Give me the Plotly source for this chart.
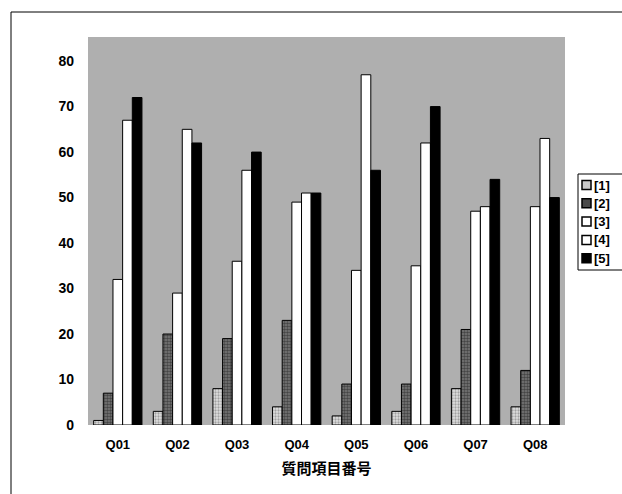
import plotly.graph_objects as go

categories = ["Q01", "Q02", "Q03", "Q04", "Q05", "Q06", "Q07", "Q08"]
series_names = ["[1]", "[2]", "[3]", "[4]", "[5]"]
s1 = [1, 3, 8, 4, 2, 3, 8, 4]
s2 = [7, 20, 19, 23, 9, 9, 21, 12]
s3 = [32, 29, 36, 49, 34, 35, 47, 48]
s4 = [67, 65, 56, 51, 77, 62, 48, 63]
s5 = [72, 62, 60, 51, 56, 70, 54, 50]
y_ticks = [0, 10, 20, 30, 40, 50, 60, 70, 80]
x_title = "質問項目番号"

values = [s1, s2, s3, s4, s5]
styles = [
    dict(color="#d0d0d0", pattern=dict(shape=".", fgcolor="#606060", bgcolor="#e0e0e0", size=3, solidity=0.45)),
    dict(color="#505050", pattern=dict(shape=".", fgcolor="#101010", bgcolor="#7a7a7a", size=3, solidity=0.55)),
    dict(color="#ffffff"),
    dict(color="#ffffff"),
    dict(color="#000000"),
]
swatch_fill = ["#c8c8c8", "#4a4a4a", "#ffffff", "#ffffff", "#000000"]

W, H = 622, 494
ML, MR, MT, MB = 88, 57, 37, 69
PW, PH = W - ML - MR, H - MT - MB


def px_x(px):
    return (px - ML) / PW


def px_y(py):
    return (H - MB - py) / PH


fig = go.Figure()
for name, vals, st in zip(series_names, values, styles):
    marker = dict(color=st["color"], line=dict(color="#000000", width=1))
    if "pattern" in st:
        marker["pattern"] = st["pattern"]
    fig.add_trace(go.Bar(x=categories, y=vals, name=name, marker=marker, showlegend=False))

font_main = "Liberation Sans, Arial, sans-serif"

shapes = [
    # outer chart frame
    dict(type="rect", xref="paper", yref="paper", x0=px_x(11), x1=px_x(626), y0=px_y(540), y1=px_y(12),
         line=dict(color="#000000", width=1), fillcolor="rgba(0,0,0,0)", layer="below"),
    # legend box
    dict(type="rect", xref="paper", yref="paper", x0=px_x(578), x1=px_x(630), y0=px_y(270), y1=px_y(174),
         line=dict(color="#000000", width=1), fillcolor="#ffffff", layer="above"),
]
annotations = []
for i, (name, fill) in enumerate(zip(series_names, swatch_fill)):
    cy = 185 + i * 18.3
    shapes.append(dict(type="rect", xref="paper", yref="paper",
                       x0=px_x(582), x1=px_x(591), y0=px_y(cy + 4.5), y1=px_y(cy - 4.5),
                       line=dict(color="#000000", width=1.5), fillcolor=fill, layer="above"))
    annotations.append(dict(xref="paper", yref="paper", x=px_x(592), y=px_y(cy), text=name,
                            showarrow=False, xanchor="left", yanchor="middle",
                            font=dict(family=font_main, size=13, color="#000000", weight="bold")))

fig.update_layout(
    width=W, height=H,
    margin=dict(l=ML, r=MR, t=MT, b=MB, autoexpand=False),
    paper_bgcolor="#ffffff",
    plot_bgcolor="#afafaf",
    barmode="group",
    bargap=0.19,
    bargroupgap=0,
    font=dict(family=font_main, size=13, color="#000000"),
    showlegend=False,
    xaxis=dict(
        showgrid=False, showline=False, ticks="", zeroline=False,
        tickfont=dict(size=13, weight="bold"), ticklabelstandoff=10,
        title=dict(text=x_title, font=dict(family="Noto Sans CJK JP", size=15, weight="bold"), standoff=12),
    ),
    yaxis=dict(
        range=[0, 85.3], tickvals=y_ticks, showgrid=False, showline=False,
        zeroline=False, ticks="", ticklabelstandoff=13,
        tickfont=dict(size=14, weight="bold"),
    ),
    shapes=shapes,
    annotations=annotations,
)

fig.write_html("out.html", config={"displayModeBar": False})
with open("out.html", "r", encoding="utf-8") as f:
    html = f.read()
html = html.replace("<head>", "<head><style>html,body{margin:0;padding:0;overflow:hidden;}</style>", 1)
with open("out.html", "w", encoding="utf-8") as f:
    f.write(html)
